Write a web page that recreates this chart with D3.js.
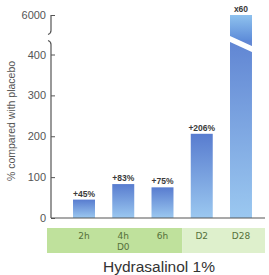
<!DOCTYPE html>
<html>
<head>
<meta charset="utf-8">
<script src="https://cdn.jsdelivr.net/npm/d3@7"></script>
<style>
  body { margin: 0; background: #fff; }
  text { font-family: "Liberation Sans", Arial, sans-serif; }
</style>
</head>
<body>
<script>
// chart values
var categories = ['2h', '4h', '6h', 'D2', 'D28'];
var values = [45, 83, 75, 206, 6000];
var valueLabels = ['+45%', '+83%', '+75%', '+206%', 'x60'];
var dayLabels = ['', 'D0', '', '', ''];
var yTicks = [0, 100, 200, 300, 400, 6000];
var yTitle = '% compared with placebo';
var chartTitle = 'Hydrasalinol 1%';

var width = 269, height = 275;

var svg = d3.select('body').append('svg')
    .attr('width', width)
    .attr('height', height);

var defs = svg.append('defs');
var grad = defs.append('linearGradient')
    .attr('id', 'barGrad')
    .attr('x1', 0).attr('y1', 0).attr('x2', 0).attr('y2', 1);
grad.append('stop').attr('offset', '0%').attr('stop-color', '#587ccf');
grad.append('stop').attr('offset', '100%').attr('stop-color', '#9bc8f0');

var gradTop = defs.append('linearGradient')
    .attr('id', 'topGrad')
    .attr('x1', 0).attr('y1', 0).attr('x2', 0).attr('y2', 1);
gradTop.append('stop').attr('offset', '0%').attr('stop-color', '#8fc2ee');
gradTop.append('stop').attr('offset', '100%').attr('stop-color', '#5d8cd9');

// broken y scale: 0..400 linear, then jump to 6000
var y = d3.scaleLinear()
    .domain([0, 400, 6000])
    .range([218, 54.5, 15]);

var x = d3.scaleBand()
    .domain(categories)
    .range([53.4, 271.6])
    .paddingInner(0.44)
    .paddingOuter(0.5);

var axisX = 51;

// green band under the axis
var band = svg.append('g');
var splitX = (x('6h') + x.bandwidth() + x('D2')) / 2;
band.append('rect')
    .attr('x', 47).attr('y', 228)
    .attr('width', splitX - 47).attr('height', 25)
    .attr('fill', '#bfe19c');
band.append('rect')
    .attr('x', splitX).attr('y', 228)
    .attr('width', 265 - splitX).attr('height', 25)
    .attr('fill', '#def0cc');

band.selectAll('.cat')
    .data(categories)
    .enter()
    .append('text')
    .attr('class', 'cat')
    .attr('x', function(d) { return x(d) + x.bandwidth() / 2; })
    .attr('y', 239)
    .attr('text-anchor', 'middle')
    .style('font-family', '"DejaVu Sans", sans-serif')
    .style('font-size', '9px')
    .attr('fill', '#55703a')
    .text(function(d) { return d; });

band.selectAll('.day')
    .data(dayLabels)
    .enter()
    .append('text')
    .attr('class', 'day')
    .attr('x', function(d, i) { return x(categories[i]) + x.bandwidth() / 2; })
    .attr('y', 250)
    .attr('text-anchor', 'middle')
    .style('font-family', '"DejaVu Sans", sans-serif')
    .style('font-size', '9px')
    .attr('fill', '#55703a')
    .text(function(d) { return d; });

// bars
var bars = svg.append('g');
bars.selectAll('.bar')
    .data(values)
    .enter()
    .append('rect')
    .attr('class', 'bar')
    .attr('x', function(d, i) { return x(categories[i]); })
    .attr('y', function(d) { return y(d); })
    .attr('width', x.bandwidth())
    .attr('height', function(d) { return y(0) - y(d); })
    .attr('fill', 'url(#barGrad)');

// top part of the broken bar + white slash
var last = categories.length - 1;
var bx = x(categories[last]), bw = x.bandwidth();
var yBreak = y(400) - 14;
bars.append('rect')
    .attr('x', bx).attr('y', y(values[last]))
    .attr('width', bw).attr('height', yBreak - y(values[last]))
    .attr('fill', 'url(#topGrad)');
bars.append('path')
    .attr('d', 'M' + (bx - 1) + ',' + (yBreak - 5) +
        'L' + (bx + bw + 1) + ',' + (yBreak + 6) +
        'L' + (bx + bw + 1) + ',' + (yBreak + 12) +
        'L' + (bx - 1) + ',' + (yBreak + 1) + 'Z')
    .attr('fill', '#fff');

bars.selectAll('.vlab')
    .data(valueLabels)
    .enter()
    .append('text')
    .attr('class', 'vlab')
    .attr('x', function(d, i) { return x(categories[i]) + x.bandwidth() / 2; })
    .attr('y', function(d, i) { return y(values[i]) - 3; })
    .attr('text-anchor', 'middle')
    .style('font-size', '8.5px')
    .style('font-weight', 'bold')
    .attr('fill', '#3a3a3a')
    .text(function(d) { return d; });

// y axis
var yAxis = svg.append('g')
    .attr('transform', 'translate(' + axisX + ',0)')
    .call(d3.axisLeft(y).tickValues(yTicks).tickFormat(d3.format('d'))
        .tickSizeInner(-4).tickSizeOuter(0).tickPadding(5));
yAxis.select('.domain').remove();
yAxis.selectAll('line').attr('stroke', '#555');
yAxis.selectAll('text')
    .style('font-size', '11px')
    .attr('fill', '#555');

// axis line with break
var axisLines = svg.append('g')
    .attr('fill', 'none')
    .attr('stroke', '#555')
    .attr('stroke-width', 1.2);
axisLines.append('path')
    .attr('d', 'M' + axisX + ',' + y(6000) + 'L' + axisX + ',' + (y(400) - 24) +
        'Q' + axisX + ',' + (y(400) - 21) + ' ' + (axisX - 3) + ',' + (y(400) - 20));
axisLines.append('path')
    .attr('d', 'M' + (axisX - 3) + ',' + (y(400) - 14) +
        'Q' + axisX + ',' + (y(400) - 13) + ' ' + axisX + ',' + (y(400) - 10) +
        'L' + axisX + ',' + y(0));
axisLines.append('line')
    .attr('x1', axisX).attr('x2', 265)
    .attr('y1', y(0)).attr('y2', y(0));

// titles
svg.append('text')
    .attr('transform', 'translate(15,121) rotate(-90)')
    .attr('text-anchor', 'middle')
    .style('font-size', '10.5px')
    .attr('fill', '#555')
    .text(yTitle);

svg.append('text')
    .attr('x', 159)
    .attr('y', 272)
    .attr('text-anchor', 'middle')
    .style('font-size', '15.5px')
    .attr('fill', '#333')
    .text(chartTitle);
</script>
</body>
</html>
